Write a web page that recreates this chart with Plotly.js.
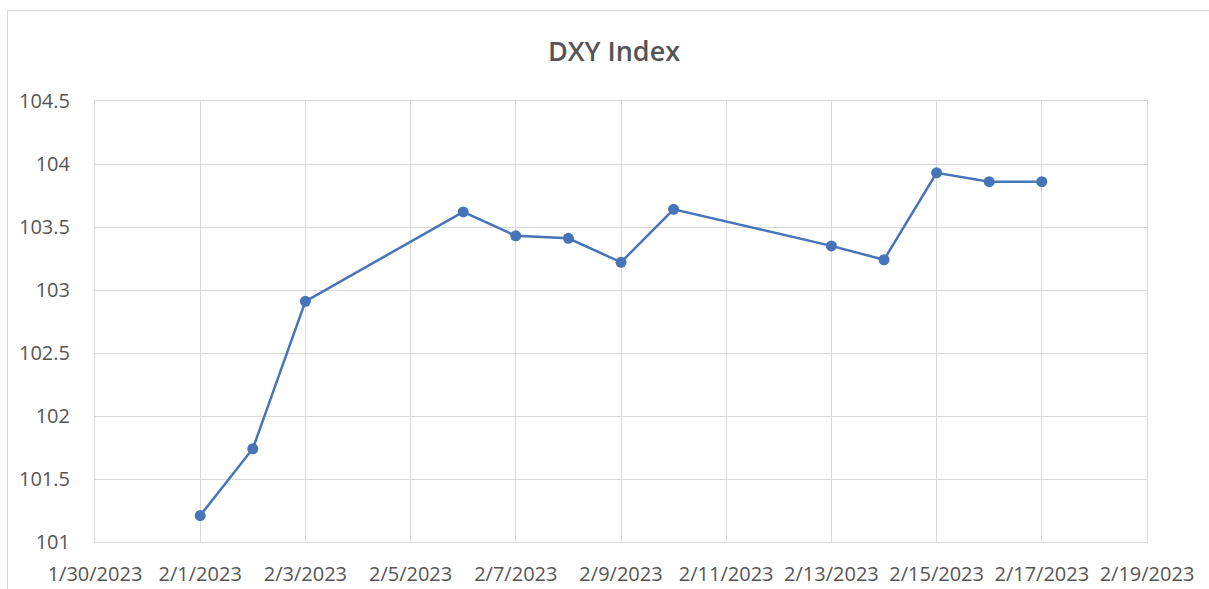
<!DOCTYPE html>
<html>
<head>
<meta charset="utf-8">
<script src="https://cdn.plot.ly/plotly-3.0.1.min.js"></script>
<style>
  html, body { margin: 0; padding: 0; background: #ffffff; overflow: hidden; }
  #chart { position: absolute; left: 0; top: 0; width: 1209px; height: 589px; }
  #frame { position: absolute; left: 7px; top: 10px; width: 1300px; height: 700px;
           border: 1px solid #d9d9d9; pointer-events: none; }
</style>
</head>
<body>
<div id="chart"></div>
<div id="frame"></div>
<script>
const dates = ['2023-02-01','2023-02-02','2023-02-03','2023-02-06','2023-02-07','2023-02-08',
               '2023-02-09','2023-02-10','2023-02-13','2023-02-14','2023-02-15','2023-02-16','2023-02-17'];
const dxyValues = [101.21, 101.74, 102.91, 103.62, 103.43, 103.41,
                   103.22, 103.64, 103.35, 103.24, 103.93, 103.86, 103.86];
const chartTitle = 'DXY Index';
const xRange = ['2023-01-30', '2023-02-19'];
const yRange = [101, 104.5];

const fontFamily = '"Open Sans", "DejaVu Sans", sans-serif';
const textColor = '#555555';
const gridColor = '#d9d9d9';

const trace = {
  type: 'scatter',
  mode: 'lines+markers',
  x: dates,
  y: dxyValues,
  line: { color: '#4774B9', width: 2.5 },
  marker: { color: '#4774B9', size: 11 },
  hoverinfo: 'x+y'
};

const layout = {
  width: 1209,
  height: 589,
  margin: { l: 95, r: 62, t: 101, b: 47 },
  paper_bgcolor: '#ffffff',
  plot_bgcolor: '#ffffff',
  showlegend: false,
  title: {
    text: chartTitle,
    font: { family: fontFamily, size: 27, color: textColor, weight: 600 },
    xref: 'container', x: 614 / 1209, xanchor: 'center',
    yref: 'container', y: 1 - 52 / 589, yanchor: 'middle'
  },
  xaxis: {
    type: 'date',
    range: xRange,
    tick0: '2023-01-30',
    dtick: 2 * 86400000,
    tickformat: '%-m/%-d/%Y',
    showgrid: true,
    gridcolor: gridColor,
    gridwidth: 1,
    showline: true,
    linecolor: gridColor,
    linewidth: 1,
    mirror: true,
    zeroline: false,
    ticks: '',
    ticklabelstandoff: 14,
    tickfont: { family: fontFamily, size: 20, color: textColor, weight: 500 }
  },
  yaxis: {
    range: yRange,
    dtick: 0.5,
    tick0: 101,
    showgrid: true,
    gridcolor: gridColor,
    gridwidth: 1,
    showline: true,
    linecolor: gridColor,
    linewidth: 1,
    mirror: true,
    zeroline: false,
    ticks: '',
    ticklabelstandoff: 20,
    tickfont: { family: fontFamily, size: 20, color: textColor, weight: 500 }
  }
};

Plotly.newPlot('chart', [trace], layout, { displayModeBar: false, staticPlot: true });
</script>
</body>
</html>
